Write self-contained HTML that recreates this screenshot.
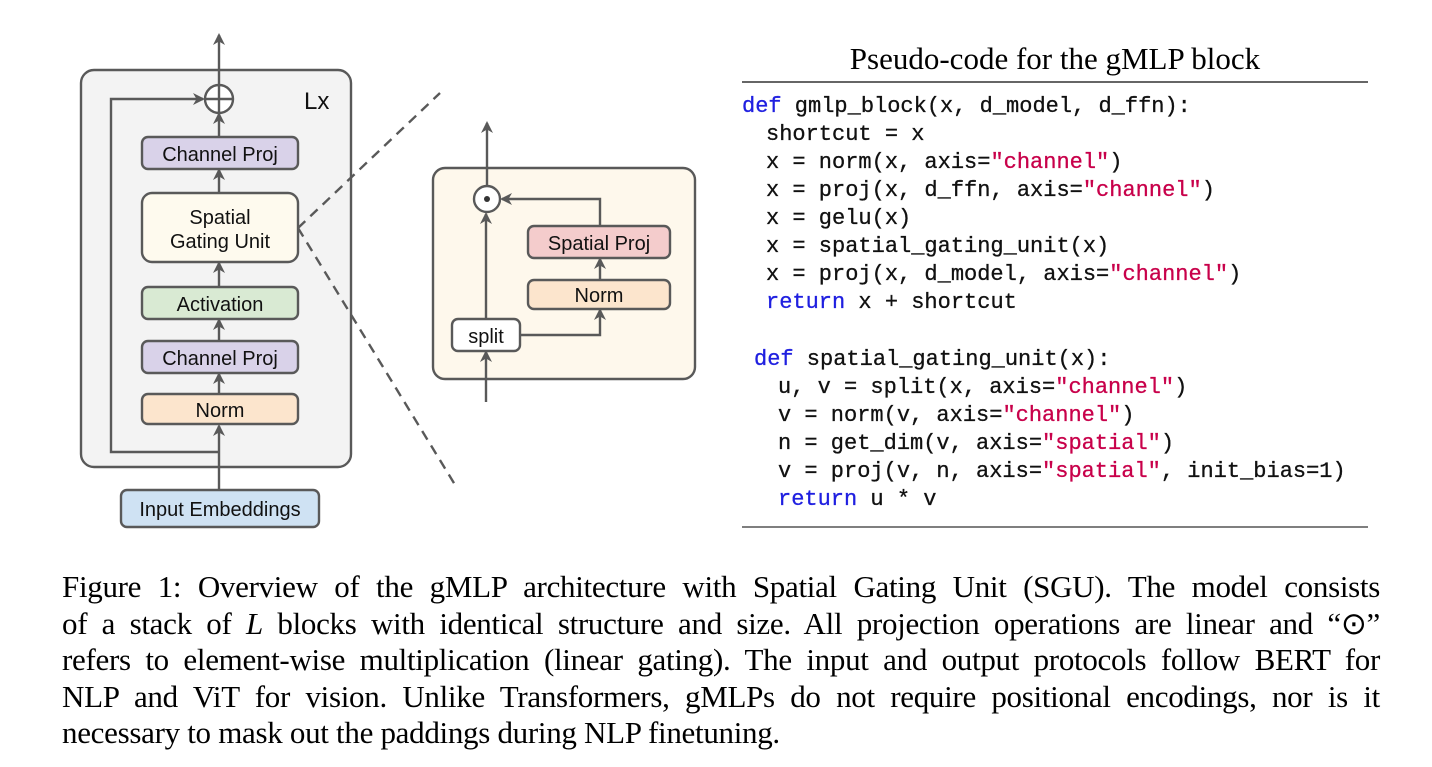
<!DOCTYPE html>
<html><head><meta charset="utf-8"><style>
body{margin:0;width:1432px;height:767px;background:#fff;position:relative;overflow:hidden}
.c{position:absolute;font-family:"Liberation Mono",monospace;font-size:22px;color:#111;white-space:pre;line-height:28px;-webkit-text-stroke:0.3px #111}
.k{color:#1f1fe0;-webkit-text-stroke:0.3px #1f1fe0}.s{color:#c8004a;-webkit-text-stroke:0.3px #c8004a}
.cap{position:absolute;left:62px;width:1318px;font-family:"Liberation Serif",serif;font-size:31px;color:#000;text-align:justify;text-align-last:justify;white-space:nowrap;line-height:36px;letter-spacing:-0.3px}
</style></head><body>
<svg width="1432" height="560" style="position:absolute;left:0;top:0" font-family="Liberation Sans, sans-serif">
<defs><marker id="a" markerWidth="12" markerHeight="12" refX="10" refY="6" orient="auto" markerUnits="userSpaceOnUse"><path d="M0,0 L12,6 L0,12 L3.5,6 Z" fill="#595959"/></marker></defs>
<g stroke="#595959" stroke-width="2.4" fill="none">
<rect x="81" y="70" width="270" height="397" rx="13" fill="#f3f3f3"/>
<line x1="219" y1="490" x2="219" y2="426" marker-end="url(#a)"/>
<polyline points="219,452 111,452 111,99 203,99" marker-end="url(#a)"/>
<line x1="219" y1="394" x2="219" y2="374" marker-end="url(#a)"/>
<line x1="219" y1="341" x2="219" y2="320" marker-end="url(#a)"/>
<line x1="219" y1="287" x2="219" y2="263" marker-end="url(#a)"/>
<line x1="219" y1="193" x2="219" y2="170" marker-end="url(#a)"/>
<line x1="219" y1="137" x2="219" y2="114" marker-end="url(#a)"/>
<line x1="219" y1="85" x2="219" y2="35" marker-end="url(#a)"/>
<circle cx="219" cy="99" r="14" fill="#fff"/>
<line x1="205" y1="99" x2="233" y2="99"/><line x1="219" y1="85" x2="219" y2="113"/>
<rect x="142" y="137" width="156" height="32" rx="6" fill="#d9d2e9"/>
<rect x="142" y="193" width="156" height="69" rx="10" fill="#fefaee"/>
<rect x="142" y="287" width="156" height="32" rx="6" fill="#d9ead3"/>
<rect x="142" y="341" width="156" height="32" rx="6" fill="#d9d2e9"/>
<rect x="142" y="394" width="156" height="30" rx="6" fill="#fce5cd"/>
<rect x="121" y="490" width="198" height="37" rx="6" fill="#cfe2f3"/>
<line x1="298" y1="228" x2="440" y2="93" stroke-dasharray="10,7"/>
<line x1="298" y1="228" x2="457" y2="488" stroke-dasharray="10,7"/>
<rect x="433" y="168" width="262" height="211" rx="12" fill="#fef8ec"/>
<line x1="486" y1="402" x2="486" y2="352" marker-end="url(#a)"/>
<line x1="486" y1="319" x2="486" y2="214" marker-end="url(#a)"/>
<polyline points="520,335 600,335 600,310" marker-end="url(#a)"/>
<line x1="600" y1="280" x2="600" y2="259" marker-end="url(#a)"/>
<polyline points="600,226 600,199 502,199" marker-end="url(#a)"/>
<line x1="487" y1="186" x2="487" y2="123" marker-end="url(#a)"/>
<circle cx="487" cy="199" r="13" fill="#fff"/>
<rect x="528" y="226" width="142" height="32" rx="6" fill="#f4cccc"/>
<rect x="528" y="280" width="142" height="29" rx="6" fill="#fce5cd"/>
<rect x="452" y="319" width="68" height="32" rx="6" fill="#fff"/>
</g>
<circle cx="487" cy="199" r="3" fill="#333"/>
<g font-size="20" fill="#111" text-anchor="middle">
<text x="220" y="161">Channel Proj</text>
<text x="220" y="224">Spatial</text>
<text x="220" y="248">Gating Unit</text>
<text x="220" y="311">Activation</text>
<text x="220" y="365">Channel Proj</text>
<text x="220" y="417">Norm</text>
<text x="220" y="516">Input Embeddings</text>
<text x="599" y="250">Spatial Proj</text>
<text x="599" y="302">Norm</text>
<text x="486" y="343">split</text>
</g>
<text x="304" y="109" font-size="24" fill="#111">Lx</text>
<text x="1055" y="69" font-size="31" text-anchor="middle" font-family="Liberation Serif, serif" fill="#000">Pseudo-code for the gMLP block</text>
<line x1="742" y1="82" x2="1368" y2="82" stroke="#333" stroke-width="1.6"/>
<line x1="742" y1="527" x2="1368" y2="527" stroke="#555" stroke-width="1.6"/>
</svg>
<div class="c" style="left:742px;top:93px"><span class="k">def</span> gmlp_block(x, d_model, d_ffn):</div>
<div class="c" style="left:766px;top:121px">shortcut = x
x = norm(x, axis=<span class="s">"channel"</span>)
x = proj(x, d_ffn, axis=<span class="s">"channel"</span>)
x = gelu(x)
x = spatial_gating_unit(x)
x = proj(x, d_model, axis=<span class="s">"channel"</span>)
<span class="k">return</span> x + shortcut</div>
<div class="c" style="left:754px;top:346px"><span class="k">def</span> spatial_gating_unit(x):</div>
<div class="c" style="left:778px;top:374px">u, v = split(x, axis=<span class="s">"channel"</span>)
v = norm(v, axis=<span class="s">"channel"</span>)
n = get_dim(v, axis=<span class="s">"spatial"</span>)
v = proj(v, n, axis=<span class="s">"spatial"</span>, init_bias=1)
<span class="k">return</span> u * v</div>
<div class="cap" style="top:569px">Figure 1: Overview of the gMLP architecture with Spatial Gating Unit (SGU). The model consists</div>
<div class="cap" style="top:606px">of a stack of <i>L</i> blocks with identical structure and size. All projection operations are linear and “⊙”</div>
<div class="cap" style="top:642px">refers to element-wise multiplication (linear gating). The input and output protocols follow BERT for</div>
<div class="cap" style="top:679px">NLP and ViT for vision. Unlike Transformers, gMLPs do not require positional encodings, nor is it</div>
<div class="cap" style="top:715px;text-align-last:left">necessary to mask out the paddings during NLP finetuning.</div>
</body></html>
